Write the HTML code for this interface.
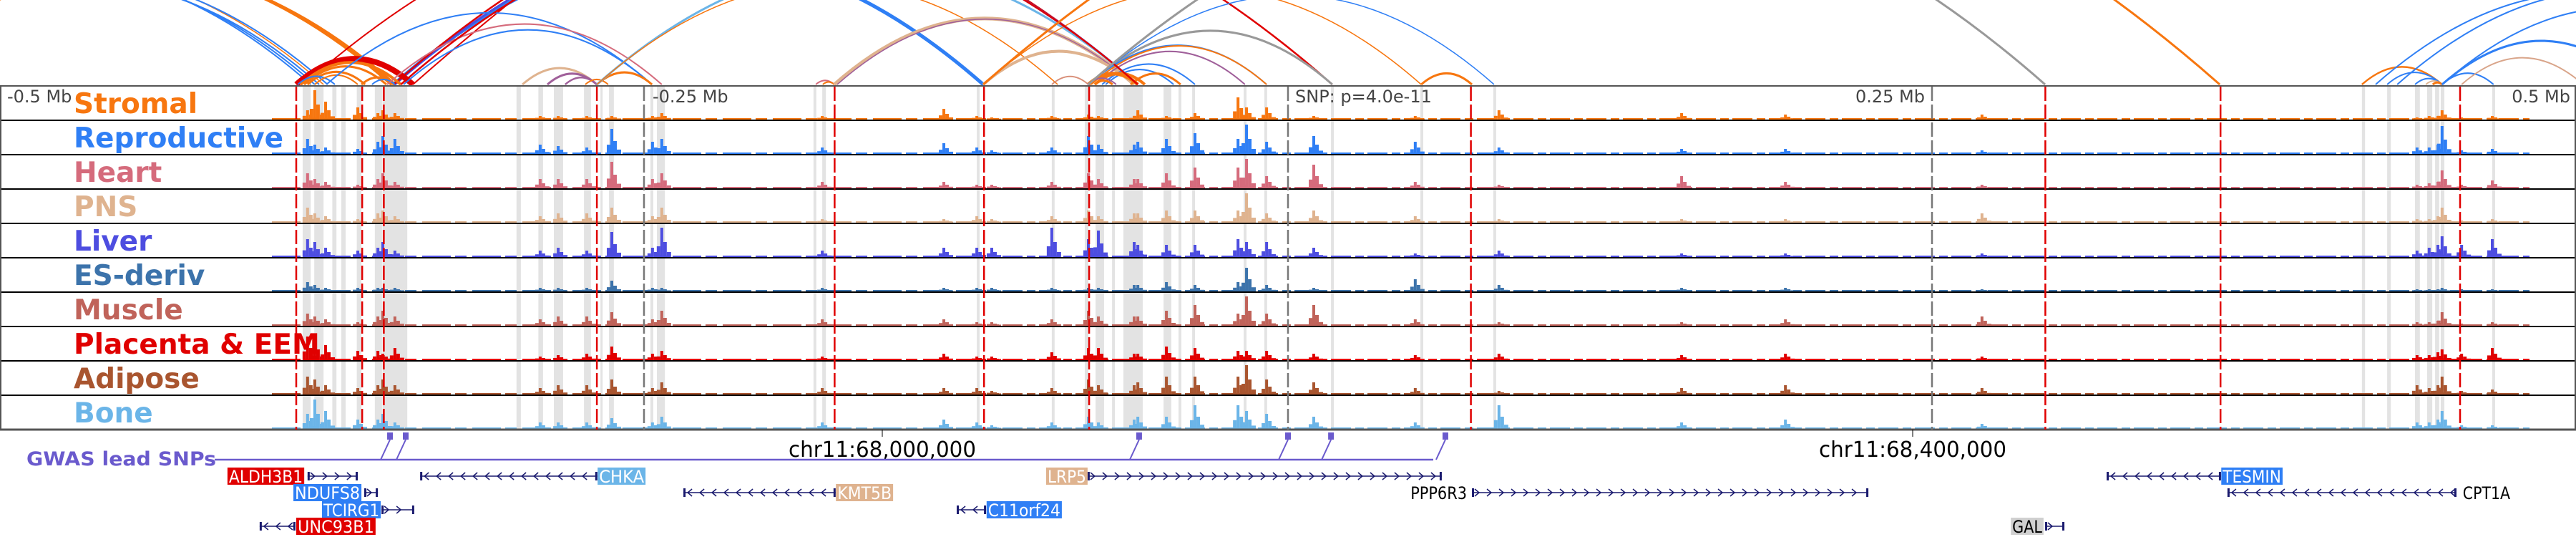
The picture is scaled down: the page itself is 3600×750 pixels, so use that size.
<!DOCTYPE html>
<html><head><meta charset="utf-8"><style>
html,body{margin:0;padding:0;background:#fff;}
svg{display:block;font-family:"DejaVu Sans","Liberation Sans",sans-serif;}
</style></head><body>
<svg id="chart" width="3600" height="750" viewBox="0 0 3600 750" xmlns="http://www.w3.org/2000/svg">
<g id="arcs"></g>
<g id="bands"></g>
<g id="tracks"></g>
<g id="vlines"></g>
<g id="labels"></g>
<g id="axis">
<text x="10" y="143" font-size="24" fill="#444">-0.5 Mb</text>
<text x="912" y="143" font-size="24" fill="#444">-0.25 Mb</text>
<text x="1810" y="143" font-size="24" fill="#444">SNP: p=4.0e-11</text>
<text x="2690" y="143" font-size="24" fill="#444" text-anchor="end">0.25 Mb</text>
<text x="3592" y="143" font-size="24" fill="#444" text-anchor="end">0.5 Mb</text>
</g>
<g id="coords">
<line x1="1233" y1="600" x2="1233" y2="610" stroke="#000" stroke-width="1"/>
<text x="1233" y="638" font-size="30" text-anchor="middle" fill="#000" textLength="262" lengthAdjust="spacingAndGlyphs">chr11:68,000,000</text>
<line x1="2673" y1="600" x2="2673" y2="610" stroke="#000" stroke-width="1"/>
<text x="2673" y="638" font-size="30" text-anchor="middle" fill="#000" textLength="262" lengthAdjust="spacingAndGlyphs">chr11:68,400,000</text>
</g>
<g id="gwas">
<text x="37" y="650" font-size="27" font-weight="bold" fill="#6a5acd" textLength="265" lengthAdjust="spacingAndGlyphs">GWAS lead SNPs</text>
<line x1="300" y1="642" x2="2003" y2="642" stroke="#6a5acd" stroke-width="2.5"/>
</g>
<g id="genes"></g>
</svg>
<script>
// ---- data ----
const tissues = ["Stromal","Reproductive","Heart","PNS","Liver","ES-deriv","Muscle","Placenta & EEM","Adipose","Bone"];
const tissueColors = ["#f7760f","#2f7ff5","#d56b7c","#dfb38f","#4d4de0","#3c73ab","#c0635a","#e00000","#a9552f","#6bb5e8"];
const peakKb = [-380.6,-377.8,-373.6,-361.1,-353.3,-351.4,-346.7,-290.3,-283.3,-272.2,-262.5,-246.7,-243.1,-180.8,-133.6,-120.8,-115,-91.7,-77.5,-73.6,-59.7,-58.3,-47.2,-36.1,-19.4,-16.1,-8.3,10,49.4,81.9,152.8,193.1,269.4,438.3,443,446.4,448,455.6,467.5];
const stromal = [.3,1,.6,.4,.2,.3,.2,.1,.1,.1,.1,.1,.2,.1,.35,.1,.05,.1,.15,.1,.1,.3,.1,.2,.75,.4,.4,.1,.1,.3,.2,.15,.15,.05,.1,.1,.3,.05,.1];
const reproductive = [.5,.3,.2,.15,.4,.6,.5,.3,.25,.2,.85,.4,.5,.2,.35,.2,.1,.2,.6,.3,.3,.4,.5,.7,.5,1,.4,.6,.4,.2,.15,.15,.1,.2,.2,.3,.95,.1,.15];
const heart = [.5,.3,.2,.1,.3,.5,.2,.3,.3,.3,.9,.3,.5,.2,.2,.1,.1,.2,.5,.3,.3,.3,.5,.7,.7,1,.4,.8,.2,.1,.4,.2,.1,.1,.15,.2,.6,.1,.25];
const pns = [.5,.3,.2,.1,.3,.4,.2,.2,.3,.3,.5,.2,.5,.1,.1,.2,.1,.2,.4,.2,.3,.3,.4,.4,.4,1,.3,.4,.2,.1,.1,.1,.3,.1,.1,.2,.5,.05,.1];
const liver = [.6,.5,.3,.2,.3,.5,.2,.2,.3,.2,.85,.3,1,.2,.3,.3,.3,1,.6,.9,.5,.4,.4,.4,.6,.5,.5,.3,.1,.2,.1,.1,.1,.2,.3,.4,.7,.4,.6];
const esDeriv = [.3,.2,.1,.1,.1,.1,.1,.1,.1,.1,.35,.1,.1,.1,.1,.1,.1,.1,.1,.1,.2,.2,.3,.2,.3,.8,.2,.1,.4,.2,.1,.1,.05,.05,.05,.05,.1,.05,.05];
const muscle = [.4,.3,.2,.1,.3,.5,.3,.2,.3,.3,.45,.2,.5,.2,.2,.1,.1,.2,.5,.3,.3,.3,.5,.7,.4,1,.4,.7,.2,.1,.1,.2,.3,.1,.1,.15,.45,.05,.1];
const placenta = [.8,.7,.5,.3,.3,.2,.4,.1,.15,.2,.45,.2,.3,.1,.2,.1,.1,.25,.4,.4,.2,.2,.45,.4,.3,.3,.3,.2,.15,.2,.15,.2,.1,.15,.15,.25,.35,.2,.4];
const adipose = [.6,.5,.3,.2,.3,.5,.3,.2,.3,.3,.5,.2,.4,.2,.2,.2,.1,.2,.5,.3,.3,.4,.6,.6,.6,1,.5,.4,.2,.1,.2,.3,.2,.3,.2,.3,.6,.1,.15];
const bone = [.5,1,.6,.3,.3,.5,.2,.2,.2,.2,.35,.2,.4,.2,.3,.2,.1,.2,.4,.2,.3,.4,.4,.8,.8,.6,.5,.4,.2,.8,.2,.3,.15,.2,.2,.3,.6,.1,.1];
const signals = [stromal,reproductive,heart,pns,liver,esDeriv,muscle,placenta,adipose,bone];
const snpLinesKb = [-385,-359.4,-351,-268.3,-176,-118,-77.2,71,294,362,455];
const tickLinesKb = [-250,0,250];
const bandStartKb = [-382.5,-378,-371,-367.5,-361.5,-354.5,-351.5,-299.5,-291,-285,-273.3,-266.9,-263.6,-247.5,-245,-184.2,-180.8,-120.8,-91.7,-78.9,-74.7,-68.3,-63.9,-48.3,-42.5,-37.2,-17.2,-9.2,16.7,51.4,79.7,416.9,426.7,437.5,442.2,445.3,447.5,467.5];
const bandEndKb = [-379.4,-374.4,-369.4,-365.8,-359.7,-351.7,-341.9,-297.8,-289.2,-281.4,-270.6,-266.1,-261.7,-246.4,-241.9,-183.1,-179.4,-119.7,-90.6,-77.5,-71.4,-67.2,-56.4,-45.3,-41.4,-36.1,-16.1,-8.1,17.8,52.5,80.8,418.1,428.1,439.4,444.2,446.9,448.9,468.6];
const arcStartKb = [-583.3,-569.4,-555.6,-577.8,-563.9,-561.1,-550,-381.9,-347.2,-346.7,-347.2,-339.7,-385,-383.3,-381.9,-380.6,-359.7,-355.6,-384.4,-377.8,-373.3,-349.7,-343.3,-297.2,-287.5,-280.6,-268.3,-272.8,-268.3,-268.3,-183.3,-180.6,-176.1,-175,-118.3,-118.3,-91.7,-77.5,-77.5,-76.4,-75,-72.2,-70.8,-77.5,-75,-75,-77.8,-61.1,-344.4,51.7,-77.5,-77.5,-118.3,416.9,426.7,437.5,441.7,444.4,448,455.6,448,430.6,422.2,448];
const arcEndKb = [-379.4,-377.8,-376.1,-374.4,-372.8,-347.8,-346.7,-58.3,-118.3,-58.3,17.2,611.1,-339.7,-344.4,-350,-358.3,-347.2,-346.7,-370,-361.1,-246.9,-243.1,-246.9,-268.3,-268.3,-268.3,-246.9,-263.9,-58.3,-89.4,-176.1,-176.1,-59.7,-59.7,-59.7,51.7,-77.5,17.2,-8.3,-8.3,-16.7,-36.1,-44.4,-58.3,-55.6,-68.1,-66.7,-41.7,-58.3,71.4,80,293.9,361.7,448,448,448,448,448,468,502.8,583.3,597.2,583.3,525];
const arcColors = ["#2f7ff5","#2f7ff5","#2f7ff5","#f7760f","#2f7ff5","#f7760f","#f7760f","#e00000","#2f7ff5","#4d4de0","#e00000","#e00000","#e00000","#f7760f","#f7760f","#f7760f","#f7760f","#2f7ff5","#2f7ff5","#f7760f","#2f7ff5","#d56b7c","#2f7ff5","#dfb38f","#a0609a","#a0609a","#f7760f","#f7760f","#6bb5e8","#f7760f","#d56b7c","#f7760f","#dfb38f","#a0609a","#dfb38f","#f7760f","#d9907a","#999999","#2f7ff5","#f7760f","#a0609a","#2f7ff5","#2f7ff5","#f7760f","#f7760f","#f7760f","#a0609a","#f7760f","#e00000","#f7760f","#2f7ff5","#999999","#f7760f","#f7760f","#2f7ff5","#2f7ff5","#dfb38f","#f7760f","#2f7ff5","#d9a58a","#2f7ff5","#2f7ff5","#2f7ff5","#2f7ff5"];
const arcWidths = [2,2,2,1.5,2,5,4,2,5,3,2.5,2,8,4,3,3,3,2,2,2,2,2,2,3,3,2.5,3,2,3,1.5,2,2,5,1.5,4,1.5,2,3,2,2,2,2,2,5,4,3,2,3,2.5,3,1.5,3,3,2.5,2,2,2,3,2,2,2,2,2,3];
const genes = [
 {name:"ALDH3B1",row:0,s:-380.6,e:-361.1,label:"box",lc:"#e00000",lx0:-411.7,lx1:-381.9,tc:"#fff",dir:1},
 {name:"NDUFS8",row:1,s:-358.6,e:-353.3,label:"box",lc:"#2f7ff5",lx0:-386.1,lx1:-359.7,tc:"#fff",dir:1},
 {name:"TCIRG1",row:2,s:-351.9,e:-339.2,label:"box",lc:"#2f7ff5",lx0:-375,lx1:-352.2,tc:"#fff",dir:1},
 {name:"UNC93B1",row:3,s:-399.2,e:-385.3,label:"box",lc:"#e00000",lx0:-385,lx1:-354.2,tc:"#fff",dir:-1},
 {name:"CHKA",row:0,s:-336.9,e:-268.1,label:"box",lc:"#6bb5e8",lx0:-268,lx1:-249.4,tc:"#fff",dir:-1},
 {name:"KMT5B",row:1,s:-234.7,e:-175.6,label:"box",lc:"#dfb38f",lx0:-175.5,lx1:-153.3,tc:"#fff",dir:-1},
 {name:"C11orf24",row:2,s:-128.6,e:-117.2,label:"box",lc:"#2f7ff5",lx0:-117,lx1:-87.8,tc:"#fff",dir:-1},
 {name:"LRP5",row:0,s:-77.8,e:59.7,label:"box",lc:"#dfb38f",lx0:-93.9,lx1:-77.8,tc:"#fff",dir:1},
 {name:"PPP6R3",row:1,s:71.4,e:225.3,label:"text",lc:"none",lx0:47,lx1:70,tc:"#000",dir:1},
 {name:"GAL",row:3,s:293.9,e:301.4,label:"box",lc:"#d0d0d0",lx0:280.6,lx1:293.3,tc:"#000",dir:1},
 {name:"TESMIN",row:0,s:317.8,e:362.2,label:"box",lc:"#2f7ff5",lx0:362.3,lx1:386.1,tc:"#fff",dir:-1},
 {name:"CPT1A",row:1,s:364.7,e:453.6,label:"text",lc:"none",lx0:455.5,lx1:475,tc:"#000",dir:-1}
];
const snpMarkersKb = [-348.6,-342.5,-57.8,0,16.7,61.1];

// ---- scales ----
const NS="http://www.w3.org/2000/svg";
const X = kb => 1800 + kb*3.6;
const TRACK_TOP=120, TRACK_H=48, ARC_BASE=118, ARC_RATIO=0.22;
function mk(tag, attrs, parent){const el=document.createElementNS(NS,tag);for(const k in attrs)el.setAttribute(k,attrs[k]);parent.appendChild(el);return el;}

// arcs (parabolic loops)
const gA=document.getElementById('arcs');
const clip=mk('clipPath',{id:'arcclip'},gA); mk('rect',{x:0,y:0,width:3600,height:ARC_BASE+2},clip);
const gAin=mk('g',{'clip-path':'url(#arcclip)'},gA);
arcStartKb.forEach((s,i)=>{
  const x1=X(s), x2=X(arcEndKb[i]); const h=(x2-x1)*ARC_RATIO;
  const p=mk('path',{d:`M${x1},${ARC_BASE} Q${(x1+x2)/2},${ARC_BASE-2*h} ${x2},${ARC_BASE}`,fill:'none',stroke:arcColors[i],'stroke-width':arcWidths[i]},gAin);
  
  
});

// bands
const gB=document.getElementById('bands');
bandStartKb.forEach((s,i)=>{
  const r=mk('rect',{x:X(s),y:TRACK_TOP,width:Math.max(3,X(bandEndKb[i])-X(s)),height:TRACK_H*10,fill:'#e3e3e3'},gB);
  
  
});

// tracks
const gT=document.getElementById('tracks');
tissues.forEach((t,ti)=>{
  const top=TRACK_TOP+ti*TRACK_H, base=top+TRACK_H-2, H=40, c=tissueColors[ti];
  const g=mk('g',{},gT);
  
  
  mk('line',{x1:1350,y1:base,x2:3535,y2:base,stroke:c,'stroke-width':2,'stroke-dasharray':'28 6 12 5'},g);
  mk('line',{x1:380,y1:base,x2:1350,y2:base,stroke:c,'stroke-width':2,'stroke-dasharray':'40 6 16 8'},g);
  signals[ti].forEach((v,pi)=>{
    const x=X(peakKb[pi]), h=v*H;
    const b=mk('rect',{x:x-2,y:base-h,width:4,height:h+1,fill:c},g);
    
    
    mk('rect',{x:x-7,y:base-h*0.35,width:5,height:h*0.35+1,fill:c},g);
    mk('rect',{x:x+2,y:base-h*0.5,width:5,height:h*0.5+1,fill:c},g);
    mk('rect',{x:x+7,y:base-h*0.15,width:6,height:h*0.15+1,fill:c},g);
  });
  mk('line',{x1:0,y1:top,x2:3600,y2:top,stroke:ti===0?'#555':'#000','stroke-width':2},g);
});
mk('line',{x1:0,y1:600,x2:3600,y2:600,stroke:'#555','stroke-width':3},gT);
mk('line',{x1:1,y1:120,x2:1,y2:600,stroke:'#555','stroke-width':2},gT);
mk('line',{x1:3599,y1:120,x2:3599,y2:600,stroke:'#555','stroke-width':2},gT);

// vertical lines
const gV=document.getElementById('vlines');
snpLinesKb.forEach(k=>{
  const l=mk('line',{x1:X(k),y1:121,x2:X(k),y2:600,stroke:'#e00000','stroke-width':2.5,'stroke-dasharray':'20 5'},gV);
  
  
});
tickLinesKb.forEach(k=>{
  const l=mk('line',{x1:X(k),y1:121,x2:X(k),y2:600,stroke:'#777','stroke-width':2.5,'stroke-dasharray':'20 5'},gV);
  
  
});

// labels
const gL=document.getElementById('labels');
tissues.forEach((t,ti)=>{
  const tx=mk('text',{x:103,y:TRACK_TOP+ti*TRACK_H+38,'font-size':39,'font-weight':'bold',fill:tissueColors[ti]},gL);
  tx.textContent=t;
  
  
});

// GWAS markers
const gG=document.getElementById('gwas');
snpMarkersKb.forEach(k=>{
  const x=X(k);
  const r=mk('rect',{x:x-4,y:604,width:8,height:10,fill:'#6a5acd'},gG);
  
  
  mk('line',{x1:x,y1:614,x2:x-13,y2:642,stroke:'#6a5acd','stroke-width':2},gG);
});

// genes
const gN=document.getElementById('genes');
const rowY=[665,688,712,735];
genes.forEach(gn=>{
  const y=rowY[gn.row];
  const g=mk('g',{},gN);
  
  
  const x1=X(gn.s), x2=X(gn.e);
  mk('line',{x1:x1,y1:y,x2:x2,y2:y,stroke:'#1a1a6e','stroke-width':1.5},g);
  for(let x=x1+8;x<x2-4;x+=17){
    const d=gn.dir>0?`M${x-4},${y-5} L${x+2},${y} L${x-4},${y+5}`:`M${x+4},${y-5} L${x-2},${y} L${x+4},${y+5}`;
    mk('path',{d:d,fill:'none',stroke:'#1a1a6e','stroke-width':1.5},g);
  }
  mk('rect',{x:x1,y:y-6,width:3,height:12,fill:'#1a1a6e'},g);
  mk('rect',{x:x2-3,y:y-6,width:3,height:12,fill:'#1a1a6e'},g);
  const lx0=X(gn.lx0), lx1=X(gn.lx1);
  if(gn.label==='box') mk('rect',{x:lx0,y:y-12,width:lx1-lx0,height:24,fill:gn.lc},g);
  const tx=mk('text',{x:(lx0+lx1)/2,y:y+9,'font-size':24,'text-anchor':'middle',fill:gn.tc,textLength:Math.max(10,lx1-lx0-4),lengthAdjust:'spacingAndGlyphs'},g);
  tx.textContent=gn.name;
});
</script>
</body></html>
